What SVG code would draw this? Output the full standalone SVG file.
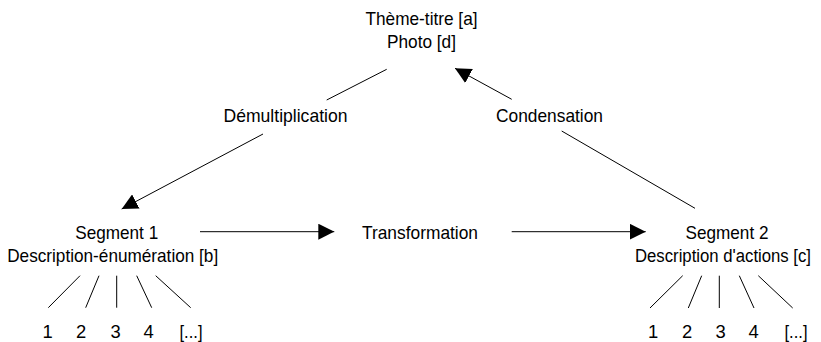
<svg xmlns="http://www.w3.org/2000/svg" width="821" height="342" viewBox="0 0 821 342">
<style>
text{font-family:"Liberation Sans",Arial,sans-serif;font-size:18.4px;fill:#000;text-anchor:middle}
.sm{font-size:17.6px}
.ln{stroke:#000;stroke-width:1;fill:none}
</style>
<defs>
<marker id="ah" viewBox="0 0 16 16" refX="16" refY="8" markerWidth="16" markerHeight="16" markerUnits="userSpaceOnUse" orient="auto">
<path d="M0,0 L16,8 L0,16 z" fill="#000"/>
</marker>
</defs>
<rect width="821" height="342" fill="#fff"/>
<g id="connectors">
<line class="ln" x1="386.7" y1="69.3" x2="326.7" y2="100"/>
<line class="ln" x1="263" y1="134" x2="121.7" y2="209" marker-end="url(#ah)"/>
<line class="ln" x1="561.7" y1="131" x2="695" y2="208.3"/>
<line class="ln" x1="511.7" y1="99.3" x2="455" y2="68.3" marker-end="url(#ah)"/>
<line class="ln" x1="200" y1="231.7" x2="334.3" y2="231.7" marker-end="url(#ah)"/>
<line class="ln" x1="511.7" y1="231.7" x2="645.7" y2="231.7" marker-end="url(#ah)"/>
<line class="ln" x1="80" y1="275.7" x2="48.3" y2="307.7"/>
<line class="ln" x1="99" y1="275.7" x2="85.7" y2="307.7"/>
<line class="ln" x1="116.7" y1="275.7" x2="116.7" y2="307.7"/>
<line class="ln" x1="136.7" y1="275.7" x2="151.7" y2="307.7"/>
<line class="ln" x1="155.7" y1="275.7" x2="190.7" y2="307.7"/>
<line class="ln" x1="682.7" y1="275.7" x2="650" y2="308"/>
<line class="ln" x1="701.7" y1="275.7" x2="688.3" y2="308"/>
<line class="ln" x1="719.3" y1="275.7" x2="719.3" y2="308"/>
<line class="ln" x1="739.3" y1="275.7" x2="754" y2="308"/>
<line class="ln" x1="758.3" y1="275.7" x2="792.7" y2="308"/>
</g>
<g id="theme">
<text x="421.5" y="25" textLength="112" lengthAdjust="spacingAndGlyphs">Thème-titre [a]</text>
<text x="421.5" y="48" textLength="69" lengthAdjust="spacingAndGlyphs">Photo [d]</text>
</g>
<g id="demultiplication"><text x="285.5" y="121.5" textLength="124" lengthAdjust="spacingAndGlyphs">Démultiplication</text></g>
<g id="condensation"><text x="549.5" y="121.5" textLength="107" lengthAdjust="spacingAndGlyphs">Condensation</text></g>
<g id="segment1">
<text x="116.7" y="239" textLength="83" lengthAdjust="spacingAndGlyphs">Segment 1</text>
<text x="112.7" y="262" textLength="211" lengthAdjust="spacingAndGlyphs">Description-énumération [b]</text>
</g>
<g id="transformation"><text x="420" y="239" textLength="116" lengthAdjust="spacingAndGlyphs">Transformation</text></g>
<g id="segment2">
<text x="727" y="239" textLength="83" lengthAdjust="spacingAndGlyphs">Segment 2</text>
<text class="sm" x="723" y="262" textLength="176" lengthAdjust="spacingAndGlyphs">Description d'actions [c]</text>
</g>
<g id="items1">
<text x="47.5" y="338">1</text>
<text x="81" y="338">2</text>
<text x="115.5" y="338">3</text>
<text x="148.5" y="338">4</text>
<text x="191" y="338" textLength="23" lengthAdjust="spacingAndGlyphs">[...]</text>
</g>
<g id="items2">
<text x="653" y="338">1</text>
<text x="687" y="338">2</text>
<text x="720.5" y="338">3</text>
<text x="753.5" y="338">4</text>
<text x="796" y="338" textLength="23" lengthAdjust="spacingAndGlyphs">[...]</text>
</g>
</svg>
